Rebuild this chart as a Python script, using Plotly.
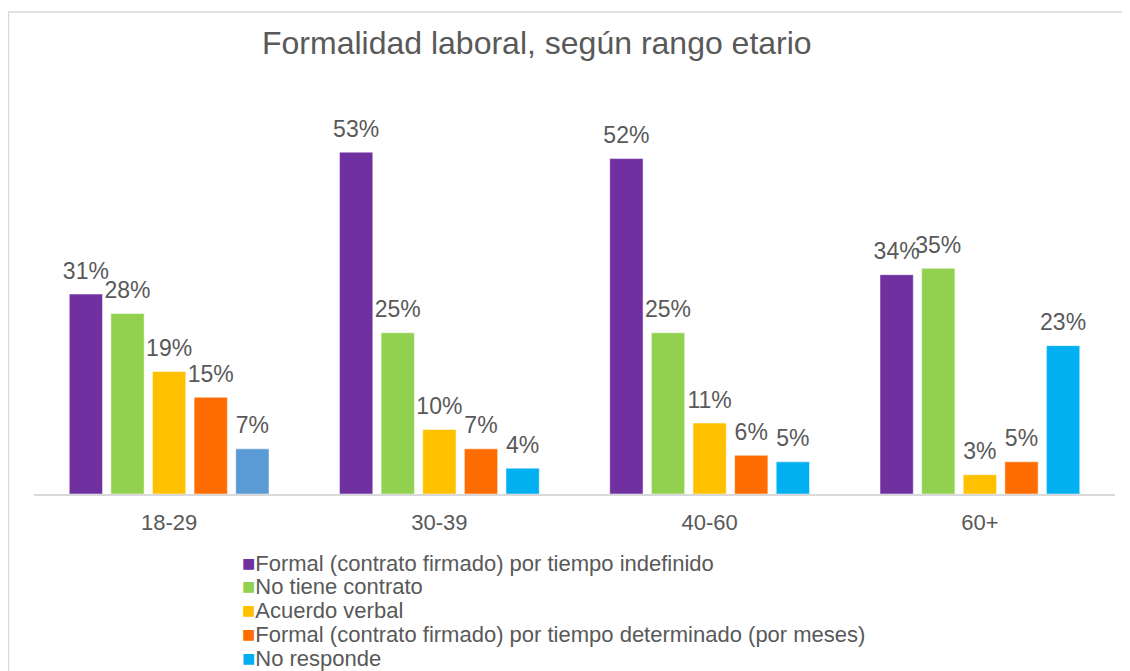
import plotly.graph_objects as go

# datos
rangos = ['18-29', '30-39', '40-60', '60+']
series = ['Formal (contrato firmado) por tiempo indefinido',
          'No tiene contrato',
          'Acuerdo verbal',
          'Formal (contrato firmado) por tiempo determinado (por meses)',
          'No responde']
indefinido = [31, 53, 52, 34]
sin_contrato = [28, 25, 25, 35]
verbal = [19, 10, 11, 3]
determinado = [15, 7, 6, 5]
no_responde = [7, 4, 5, 23]

valores = [indefinido, sin_contrato, verbal, determinado, no_responde]
colores = ['#7030A0', '#92D050', '#FFC000', '#FF6D00', '#00B0F0']
# la primera barra de "No responde" tiene otro tono de azul
colores_barras = colores[:4] + [['#5B9BD5', '#00B0F0', '#00B0F0', '#00B0F0']]

gris = '#595959'
fuente = 'Liberation Sans, Arial, sans-serif'

# la pagina tiene 8px de margen en el body
OFF = 8
W, H = 1130 - OFF, 671 - OFF
L, R, T, B = 34, 1115, 107, 494  # area del grafico en px de la pagina


def px_x(x):
    return (x - L) / (R - L)


def px_y(y):
    return (B - y) / (B - T)


fig = go.Figure()
for i, (nombre, vals, col) in enumerate(zip(series, valores, colores_barras)):
    fig.add_trace(go.Bar(
        name=nombre, x=rangos, y=vals, offsetgroup=str(i),
        marker=dict(color=col, line=dict(color='white', width=0.5)),
    ))
# etiquetas de valor encima de cada barra
for i, vals in enumerate(valores):
    fig.add_trace(go.Scatter(
        x=rangos, y=vals, offsetgroup=str(i), mode='markers+text',
        text=[f'{v}%' for v in vals], textposition='top center',
        textfont=dict(size=23, color=gris, family=fuente),
        marker=dict(size=14, color='rgba(0,0,0,0)'),
        cliponaxis=False, showlegend=False, hoverinfo='skip',
    ))

fig.update_layout(
    width=W, height=H,
    barmode='group', bargap=0.23, bargroupgap=0.2,
    scattermode='group', scattergap=0.23,
    plot_bgcolor='white', paper_bgcolor='white',
    margin=dict(l=L - OFF, r=W - (R - OFF), t=T - OFF, b=H - (B - OFF), autoexpand=False),
    font=dict(family=fuente, color=gris),
    title=dict(text='Formalidad laboral, según rango etario',
               x=(262 - OFF) / W, xanchor='left', y=1 - (43 - OFF) / H, yanchor='middle',
               font=dict(size=32, color=gris, family=fuente)),
    showlegend=False,
)
fig.update_xaxes(showline=True, linecolor='#D9D9D9', linewidth=2,
                 ticks='', tickfont=dict(size=22, color=gris), ticklabelstandoff=8)
fig.update_yaxes(range=[0, 60], visible=False, showgrid=False)

# leyenda: cuadrado de color + nombre de la serie
for i, (nombre, col) in enumerate(zip(series, colores)):
    fig.add_annotation(
        xref='paper', yref='paper', x=px_x(240), y=px_y(563 + i * 23.75),
        xanchor='left', yanchor='middle', showarrow=False,
        text=f'<span style="color:{col}">■</span>{nombre}',
        font=dict(size=22, color=gris, family=fuente),
    )

# borde del area del grafico
fig.add_shape(type='rect', xref='paper', yref='paper',
              x0=px_x(OFF + 0.5), x1=1.2, y0=-1, y1=px_y(12),
              line=dict(color='#D9D9D9', width=1.5), fillcolor='rgba(0,0,0,0)',
              layer='below')

fig.write_html('out.html')
